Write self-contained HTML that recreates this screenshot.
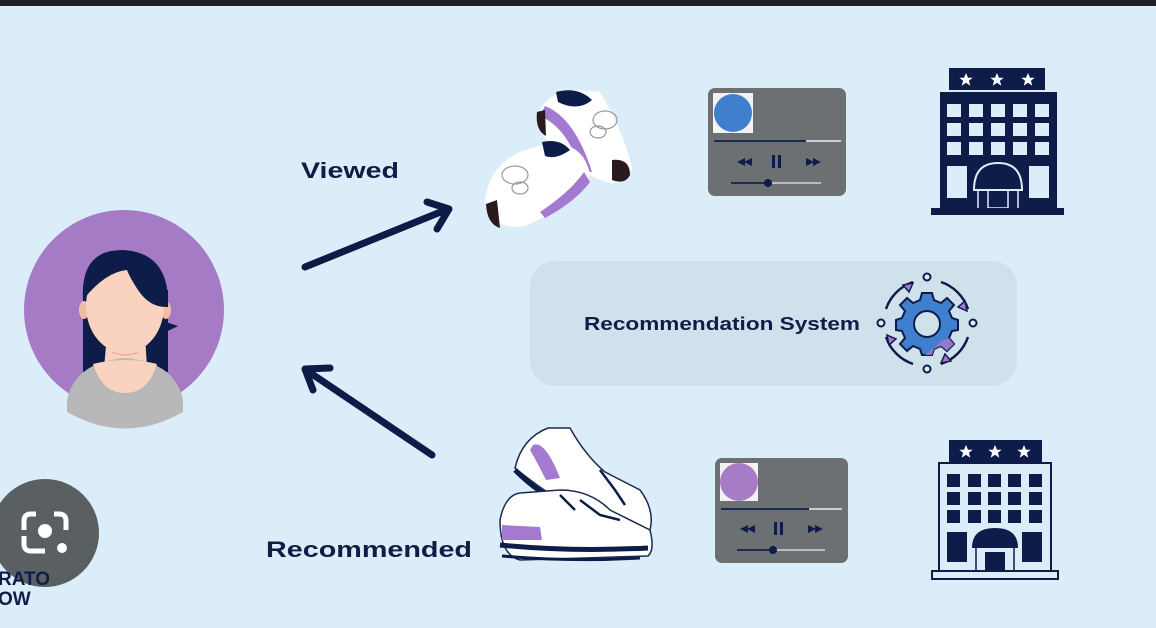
<!DOCTYPE html>
<html><head><meta charset="utf-8"><style>
html,body{margin:0;padding:0;width:1156px;height:628px;overflow:hidden;background:#dcedfa}
svg{display:block}
text{font-family:"Liberation Sans",sans-serif;font-weight:bold;fill:#0f1d47}
</style></head><body>
<svg width="1156" height="628" viewBox="0 0 1156 628" xmlns="http://www.w3.org/2000/svg">
<defs>
<path id="st" d="M0 -7 L2 -2.2 L6.7 -2.2 L2.9 0.8 L4.3 5.7 L0 2.8 L-4.3 5.7 L-2.9 0.8 L-6.7 -2.2 L-2 -2.2Z"/>
</defs>
<rect x="0" y="0" width="1156" height="628" fill="#dcedfa"/>
<rect x="0" y="0" width="1156" height="6" fill="#202124"/>

<!-- avatar -->
<ellipse cx="124" cy="310" rx="100" ry="100" fill="#a67bc6"/>
<path d="M83 290 L83 372 L168 372 L168 290Z" fill="#0e1c4a"/>
<path d="M166 322 L178 326 L166 332Z" fill="#0e1c4a"/>
<path d="M107 335 L145 335 L147 368 Q125 378 104 368 Z" fill="#f9d3c0"/>
<path d="M67 400 Q75 362 125 358 Q175 362 183 400 L183 412 Q125 445 67 412Z" fill="#b8b8b8"/>
<path d="M93 364 Q125 356 157 364 Q148 393 125 393 Q102 393 93 364Z" fill="#f9d3c0"/>
<path d="M112 352 Q125 358 138 352" stroke="#f0a8a0" stroke-width="1.5" fill="none"/>
<ellipse cx="84" cy="310" rx="5" ry="9" fill="#f1bba5"/>
<ellipse cx="166" cy="310" rx="5" ry="9" fill="#f1bba5"/>
<ellipse cx="125" cy="306" rx="39" ry="47" fill="#f9d3c0"/>
<path d="M83 300 Q80 250 122 250 Q170 252 168 307 Q150 308 138 290 Q130 278 127 270 Q105 272 83 300Z" fill="#0e1c4a"/>

<!-- google lens button -->
<circle cx="45" cy="533" r="54" fill="#5a5f61"/>
<path d="M24 530 V521 Q24 514 31 514 H36 M54 514 H59 Q66 514 66 521 V530 M24 536 V544 Q24 551 31 551 H45" stroke="#fff" stroke-width="5" fill="none"/>
<circle cx="45" cy="531" r="7" fill="#fff"/>
<circle cx="62" cy="548" r="5" fill="#fff"/>
<text x="-2" y="585" font-size="19" fill="#2a3550">RATO</text>
<text x="-2" y="605" font-size="19" fill="#2a3550">OW</text>

<!-- labels -->
<text x="301" y="178" font-size="22" textLength="98" lengthAdjust="spacingAndGlyphs">Viewed</text>
<text x="266" y="557" font-size="22" textLength="206" lengthAdjust="spacingAndGlyphs">Recommended</text>

<!-- arrows -->
<g stroke="#0c1c46" stroke-width="7" stroke-linecap="round" stroke-linejoin="round" fill="none">
<line x1="305" y1="267" x2="448" y2="209"/>
<polyline points="427,202 449,209 437,229"/>
<line x1="432" y1="455" x2="306" y2="370"/>
<polyline points="330,368 305,369 313,390"/>
</g>

<!-- viewed shoes -->
<g>
<path d="M537 118 Q545 92 575 90 L600 92 Q625 135 632 168 Q628 185 610 183 Q580 175 560 150 Q540 140 537 118Z" fill="#fff"/>
<path d="M556 92 Q578 86 592 100 Q578 112 558 102Z" fill="#0e1c4a"/>
<path d="M545 106 Q575 118 592 172 L580 170 Q568 128 540 116Z" fill="#a47ad0"/>
<path d="M612 160 Q630 158 630 175 Q625 185 612 180Z" fill="#2a1a20"/>
<path d="M537 112 Q535 130 546 136 L545 110Z" fill="#2a1a20"/>
<path d="M485 200 Q490 165 520 152 L552 142 Q585 145 590 175 Q585 200 525 226 Q492 232 485 200Z" fill="#fff"/>
<path d="M542 142 Q560 138 570 150 Q556 160 545 156Z" fill="#0e1c4a"/>
<path d="M540 212 Q570 192 584 172 L590 182 Q575 202 545 218Z" fill="#a47ad0"/>
<path d="M486 204 Q487 224 500 228 L497 200Z" fill="#2a1a20"/>
<g stroke="#999" stroke-width="1.2" fill="none"><ellipse cx="605" cy="120" rx="12" ry="9"/><ellipse cx="598" cy="132" rx="8" ry="6"/><ellipse cx="515" cy="175" rx="13" ry="9"/><ellipse cx="520" cy="188" rx="8" ry="6"/></g>
</g>

<!-- players -->
<g>
<rect x="708" y="88" width="138" height="108" rx="7" fill="#6c7072"/>
<rect x="713" y="93" width="40" height="40" fill="#f2f2f2"/>
<circle cx="733" cy="113" r="19" fill="#3f7fcd"/>
<rect x="714" y="140" width="92" height="2" fill="#1c2a50"/><rect x="806" y="140" width="35" height="2" fill="#ccc"/>
<path d="M745 158 L737 162 L745 166Z M752 158 L744 162 L752 166Z" fill="#0e1c4a"/>
<rect x="772" y="155" width="3" height="13" fill="#0e1c4a"/><rect x="778" y="155" width="3" height="13" fill="#0e1c4a"/>
<path d="M806 158 L814 162 L806 166Z M813 158 L821 162 L813 166Z" fill="#0e1c4a"/>
<rect x="731" y="182" width="38" height="2" fill="#1c2a50"/><rect x="769" y="182" width="52" height="2" fill="#bbb"/><circle cx="768" cy="183" r="4" fill="#0e1c4a"/>

<rect x="715" y="458" width="133" height="105" rx="7" fill="#6c7072"/>
<rect x="720" y="463" width="38" height="38" fill="#f2f2f2"/>
<circle cx="739" cy="482" r="19" fill="#a77cc7"/>
<rect x="721" y="508" width="88" height="2" fill="#1c2a50"/><rect x="809" y="508" width="33" height="2" fill="#ccc"/>
<path d="M748 525 L740 529 L748 533Z M755 525 L747 529 L755 533Z" fill="#0e1c4a"/>
<rect x="774" y="522" width="3" height="13" fill="#0e1c4a"/><rect x="780" y="522" width="3" height="13" fill="#0e1c4a"/>
<path d="M808 525 L816 529 L808 533Z M815 525 L823 529 L815 533Z" fill="#0e1c4a"/>
<rect x="737" y="549" width="36" height="2" fill="#1c2a50"/><rect x="773" y="549" width="52" height="2" fill="#bbb"/><circle cx="773" cy="550" r="4" fill="#0e1c4a"/>
</g>

<!-- hotel top (filled) -->
<g>
<rect x="949" y="68" width="96" height="22" fill="#0e1c4a"/>
<g fill="#fff"><use href="#st" x="966" y="80"/><use href="#st" x="997" y="80"/><use href="#st" x="1028" y="80"/></g>
<rect x="940" y="92" width="117" height="116" fill="#0e1c4a"/>
<g fill="#dcedfa">
<rect x="947" y="104" width="14" height="13"/><rect x="969" y="104" width="14" height="13"/><rect x="991" y="104" width="14" height="13"/><rect x="1013" y="104" width="14" height="13"/><rect x="1035" y="104" width="14" height="13"/>
<rect x="947" y="123" width="14" height="13"/><rect x="969" y="123" width="14" height="13"/><rect x="991" y="123" width="14" height="13"/><rect x="1013" y="123" width="14" height="13"/><rect x="1035" y="123" width="14" height="13"/>
<rect x="947" y="142" width="14" height="13"/><rect x="969" y="142" width="14" height="13"/><rect x="991" y="142" width="14" height="13"/><rect x="1013" y="142" width="14" height="13"/><rect x="1035" y="142" width="14" height="13"/>
<rect x="947" y="166" width="20" height="32"/><rect x="1029" y="166" width="20" height="32"/>
</g>
<path d="M974 190 Q974 163 998 163 Q1022 163 1022 190 Z" stroke="#dcedfa" stroke-width="2" fill="none"/>
<g stroke="#dcedfa" stroke-width="1.5"><line x1="978" y1="190" x2="978" y2="208"/><line x1="1018" y1="190" x2="1018" y2="208"/><rect x="988" y="190" width="20" height="18" fill="none"/></g>
<rect x="931" y="208" width="133" height="7" fill="#0e1c4a"/>
</g>

<!-- hotel bottom (outline) -->
<g>
<rect x="949" y="440" width="93" height="23" fill="#0e1c4a"/>
<g fill="#fff"><use href="#st" x="966" y="452"/><use href="#st" x="995" y="452"/><use href="#st" x="1024" y="452"/></g>
<rect x="939" y="463" width="112" height="108" fill="#dcedfa" stroke="#0e1c4a" stroke-width="2"/>
<g fill="#0e1c4a">
<rect x="947" y="474" width="13" height="13"/><rect x="968" y="474" width="13" height="13"/><rect x="988" y="474" width="13" height="13"/><rect x="1008" y="474" width="13" height="13"/><rect x="1029" y="474" width="13" height="13"/>
<rect x="947" y="492" width="13" height="13"/><rect x="968" y="492" width="13" height="13"/><rect x="988" y="492" width="13" height="13"/><rect x="1008" y="492" width="13" height="13"/><rect x="1029" y="492" width="13" height="13"/>
<rect x="947" y="510" width="13" height="13"/><rect x="968" y="510" width="13" height="13"/><rect x="988" y="510" width="13" height="13"/><rect x="1008" y="510" width="13" height="13"/><rect x="1029" y="510" width="13" height="13"/>
<rect x="947" y="532" width="20" height="30"/><rect x="1022" y="532" width="20" height="30"/>
<path d="M972 548 Q972 528 995 528 Q1018 528 1018 548Z"/>
<rect x="985" y="552" width="20" height="19"/>
</g>
<g stroke="#0e1c4a" stroke-width="1.5"><line x1="976" y1="548" x2="976" y2="571"/><line x1="1014" y1="548" x2="1014" y2="571"/></g>
<rect x="932" y="571" width="126" height="8" fill="#dcedfa" stroke="#0e1c4a" stroke-width="2"/>
</g>

<!-- recommended shoes -->
<g>
<path d="M515 468 Q522 438 548 428 L570 428 Q585 455 605 472 L640 490 Q655 510 650 530 L600 520 Q560 505 515 468Z" fill="#fff" stroke="#1c2a50" stroke-width="1.5"/>
<path d="M533 445 Q545 440 560 478 L546 480 Q536 460 530 450Z" fill="#a47ad0"/>
<path d="M515 470 Q540 495 562 502" stroke="#0e1c4a" stroke-width="5" fill="none"/>
<path d="M500 520 Q505 495 520 493 L560 490 Q590 490 610 510 L650 530 Q655 550 648 556 L520 560 Q500 555 500 520Z" fill="#fff" stroke="#1c2a50" stroke-width="1.5"/>
<path d="M502 525 L540 527 L542 540 L502 540Z" fill="#a47ad0"/>
<path d="M500 545 Q570 552 648 548" stroke="#0e1c4a" stroke-width="5" fill="none"/>
<path d="M502 556 Q570 562 640 558" stroke="#0e1c4a" stroke-width="3" fill="none"/>
<g stroke="#0e1c4a" stroke-width="2.5" fill="none"><path d="M600 470 L615 490 L625 505"/><path d="M580 500 L600 515 L620 520"/><path d="M560 495 L575 510"/></g>
</g>

<!-- recommendation system box -->
<rect x="530" y="261" width="487" height="125" rx="25" fill="#cfe1eb"/>
<text x="584" y="330" font-size="18.5" textLength="276" lengthAdjust="spacingAndGlyphs">Recommendation System</text>
<g transform="translate(927,323)">
<g fill="none" stroke="#0e1c4a" stroke-width="2.5">
<path d="M-14 -41 A43 43 0 0 0 -41 -14"/><path d="M14 -41 A43 43 0 0 1 41 -14"/>
<path d="M41 14 A43 43 0 0 1 14 41"/><path d="M-14 41 A43 43 0 0 1 -41 14"/>
</g>
<g fill="#dcedfa" stroke="#0e1c4a" stroke-width="2"><circle cx="0" cy="-46" r="3.5"/><circle cx="0" cy="46" r="3.5"/><circle cx="-46" cy="0" r="3.5"/><circle cx="46" cy="0" r="3.5"/></g>
<g fill="#a47ad0" stroke="#0e1c4a" stroke-width="1.5"><path d="M-24 -38 L-14 -40 L-18 -31Z"/><path d="M38 -22 L40 -12 L31 -16Z"/><path d="M24 38 L14 40 L18 31Z"/><path d="M-38 22 L-40 12 L-31 16Z"/></g>
<g fill="#3f7fcd" stroke="#0e1c4a" stroke-width="2">
<path d="M-5 -30 H5 L7 -23 L14 -20 L20 -25 L27 -18 L22 -12 L25 -5 L31 -3 V7 L25 8 L22 15 L27 21 L20 28 L14 23 L7 26 L5 32 H-5 L-7 26 L-14 23 L-20 28 L-27 21 L-22 15 L-25 8 L-31 7 V-3 L-25 -5 L-22 -12 L-27 -18 L-20 -25 L-14 -20 L-7 -23Z"/>
</g>
<path d="M15 18 L22 15 L27 21 L20 28 L14 23 L7 26 L5 32 H-2 Z" fill="#a47ad0" opacity="0.8"/>
<circle cx="0" cy="1" r="13" fill="#cfe1eb" stroke="#0e1c4a" stroke-width="2"/>
</g>
</svg>
</body></html>
